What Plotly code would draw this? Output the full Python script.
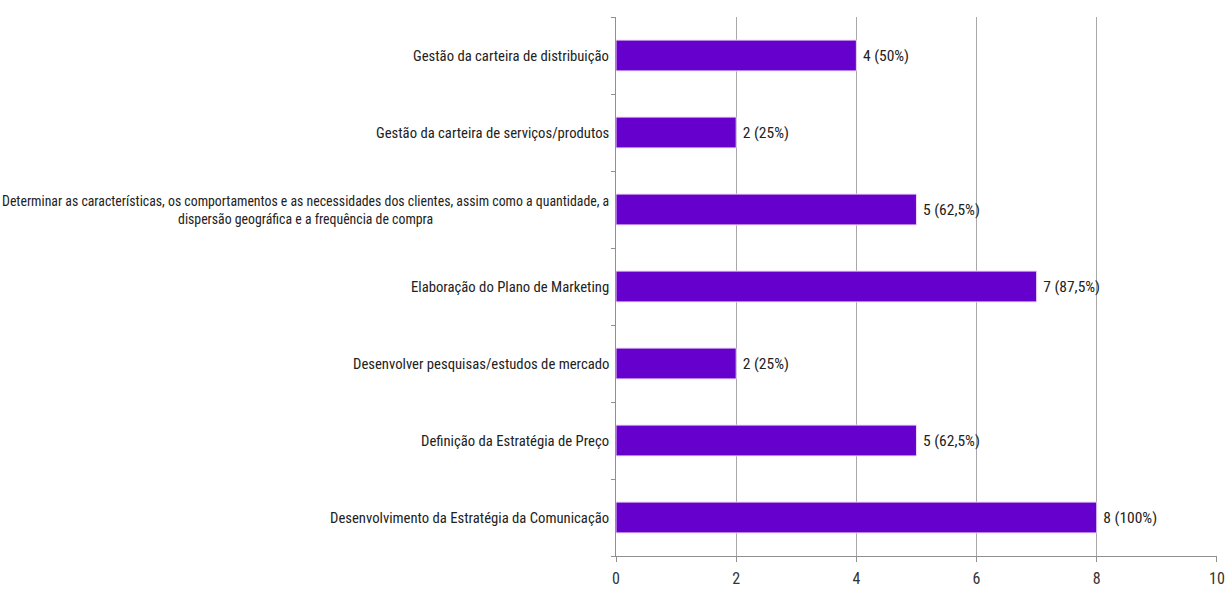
import plotly.graph_objects as go

categories = [
    "Gestão da carteira de distribuição",
    "Gestão da carteira de serviços/produtos",
    "Determinar as características, os comportamentos e as necessidades dos clientes, assim como a quantidade, a<br>dispersão geográfica e a frequência de compra",
    "Elaboração do Plano de Marketing",
    "Desenvolver pesquisas/estudos de mercado",
    "Definição da Estratégia de Preço",
    "Desenvolvimento da Estratégia da Comunicação",
]
values = [4, 2, 5, 7, 2, 5, 8]
labels = ["4 (50%)", "2 (25%)", "5 (62,5%)", "7 (87,5%)", "2 (25%)", "5 (62,5%)", "8 (100%)"]
x_ticks = [0, 2, 4, 6, 8, 10]

FONT = "Liberation Sans Narrow, Arial Narrow, Roboto Condensed, sans-serif"
ids = list(range(len(categories)))

fig = go.Figure(go.Bar(
    x=values, y=ids, orientation="h",
    marker=dict(color="#6600CC", line=dict(color="#F0D8F5", width=1)),
    text=[" " + t for t in labels], textposition="outside", cliponaxis=False,
    textfont=dict(family=FONT, size=15.5, color="#222222"),
))

for i, c in enumerate(categories):
    fig.add_annotation(x=0, xref="paper", y=i, yref="y", text=c, showarrow=False,
                       xanchor="right", xshift=-5, align="center",
                       font=dict(family=FONT, size=13.8 if "<br>" in c else 14.7, color="#222222"))

fig.update_layout(
    width=1227, height=591,
    margin=dict(l=616, r=10, t=17, b=35),
    plot_bgcolor="white", paper_bgcolor="white",
    bargap=0.6, showlegend=False,
    xaxis=dict(range=[0, 10.001], tickvals=x_ticks, showgrid=True, gridcolor="#A8A8A8", gridwidth=1,
               showline=True, linecolor="#909090", ticks="outside", ticklen=5, tickcolor="#909090",
               ticklabelstandoff=3, ticklabeloverflow="allow", automargin=False,
               tickfont=dict(family=FONT, size=16, color="#333333"), zeroline=False),
    yaxis=dict(tickvals=ids, range=[len(ids) - 0.5, -0.5], showticklabels=False, automargin=False,
               showline=True, linecolor="#909090", showgrid=False, zeroline=False),
)
# tick marks at category boundaries
fig.update_yaxes(tickmode="array", tickvals=[i - 0.5 for i in range(len(ids) + 1)],
                 ticks="outside", ticklen=4, tickcolor="#909090")

fig.write_html("out.html")
